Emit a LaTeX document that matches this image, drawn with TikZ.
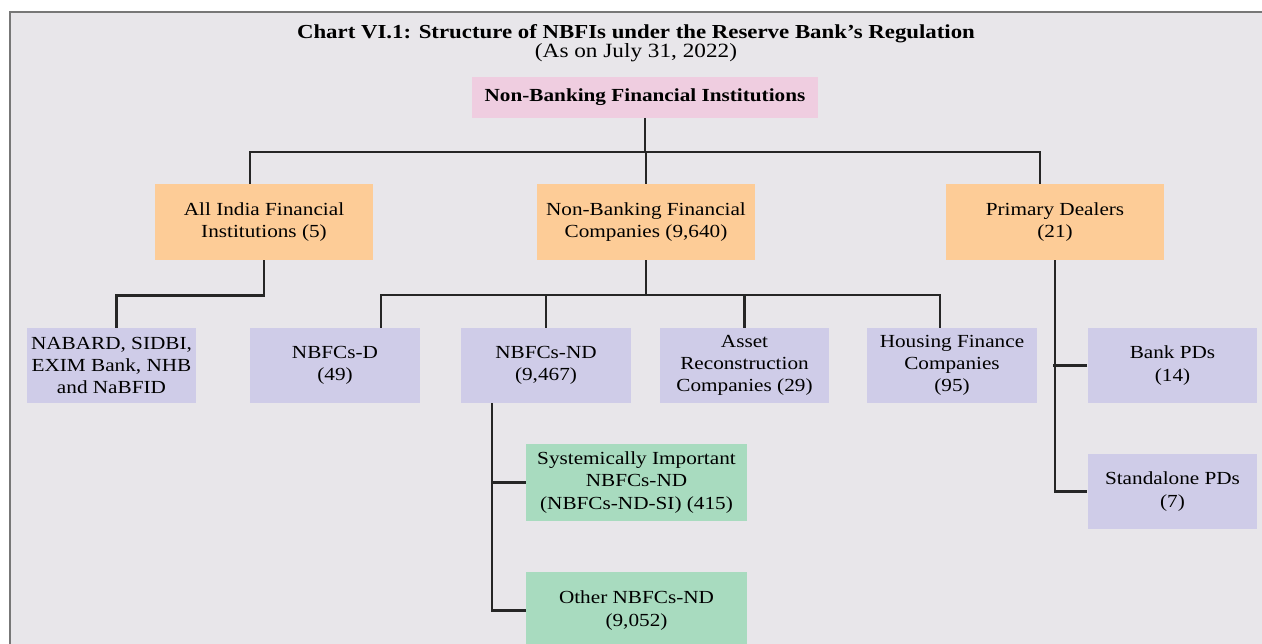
\documentclass[tikz,border=0pt]{standalone}
\usepackage{fontspec}
\setmainfont{Liberation Serif}[FakeStretch=1.15]
\definecolor{chartbg}{HTML}{E8E6EA}
\definecolor{pinkbox}{HTML}{EFCDE0}
\definecolor{orangebox}{HTML}{FDCC97}
\definecolor{lavbox}{HTML}{CFCCE8}
\definecolor{greenbox}{HTML}{A8DBBF}
\definecolor{framegray}{HTML}{777777}
\begin{document}
\begin{tikzpicture}[x=0.02cm,y=-0.02cm,
  every node/.style={font=\fontsize{10.5}{12.6}\selectfont, align=center, inner sep=0pt},
  topbox/.style={fill=pinkbox, minimum width=6.92cm, minimum height=0.82cm},
  catbox/.style={fill=orangebox, minimum width=4.38cm, minimum height=1.52cm},
  subbox/.style={fill=lavbox, minimum width=3.4cm, minimum height=1.5cm},
  ndbox/.style={fill=greenbox, minimum width=4.42cm, minimum height=1.54cm},
  link/.style={line width=1.6pt, color=black!85}]
\useasboundingbox (0,0) rectangle (1262,643);
\fill[white] (0,0) rectangle (1262,643);
\draw[framegray, line width=1.2pt, fill=chartbg] (10,12) rectangle (1275,660);
\node[anchor=base, font=\fontsize{11.3}{14}\selectfont\bfseries] (title) at (636,38) {Chart VI.1: Structure of NBFIs under the Reserve Bank's Regulation};
\node[anchor=base, font=\fontsize{11.5}{14}\selectfont] (date) at (636,57) {(As on July 31, 2022)};
\node[topbox] (nbfi) at (645,97) {\bfseries Non-Banking Financial Institutions};
\node[catbox] (aifi) at (264,222) {All India Financial\\Institutions (5)};
\node[catbox] (nbfc) at (646,222) {Non-Banking Financial\\Companies (9,640)};
\node[catbox] (pd) at (1055,222) {Primary Dealers\\(21)};
\node[subbox] (nabard) at (111.5,365.5) {NABARD, SIDBI,\\EXIM Bank, NHB\\and NaBFID};
\node[subbox] (nbfcd) at (335,365.5) {NBFCs-D\\(49)};
\node[subbox] (nbfcnd) at (546,365.5) {NBFCs-ND\\(9,467)};
\node[subbox] (arc) at (744.5,365.5) {Asset\\Reconstruction\\Companies (29)};
\node[subbox] (hfc) at (952,365.5) {Housing Finance\\Companies\\(95)};
\node[subbox] (bpd) at (1172.5,365.5) {Bank PDs\\(14)};
\node[subbox] (spd) at (1172.5,491.5) {Standalone PDs\\(7)};
\node[ndbox] (si) at (636.5,482.5) {Systemically Important\\NBFCs-ND\\(NBFCs-ND-SI) (415)};
\node[ndbox] (other) at (636.5,610.5) {Other NBFCs-ND\\(9,052)};
\coordinate (bus1) at (646,152);
\coordinate (bus2) at (646,295);
\draw[link] (nbfi.south) -- (nbfi.south |- bus1);
\draw[link] ([xshift=-0.28cm]aifi.north) |- (bus1) -| ([xshift=-0.3cm]pd.north);
\draw[link] (bus1) -- (nbfc.north);
\draw[link] (aifi.south) -- ++(0,35) -| ([xshift=0.1cm]nabard.north);
\draw[link] (nbfc.south) -- (bus2);
\draw[link] ([xshift=0.92cm]nbfcd.north) |- (bus2) -| ([xshift=-0.24cm]hfc.north);
\draw[link] (bus2 -| nbfcnd.north) -- (nbfcnd.north);
\draw[link] (bus2 -| arc.north) -- (arc.north);
\draw[link] ([xshift=-1.08cm]nbfcnd.south) |- (other.west);
\draw[link] (si.west) -- +(-34,0);
\draw[link] (pd.south) |- (spd.west);
\draw[link] (bpd.west) -- +(-34,0);
\end{tikzpicture}
\end{document}
